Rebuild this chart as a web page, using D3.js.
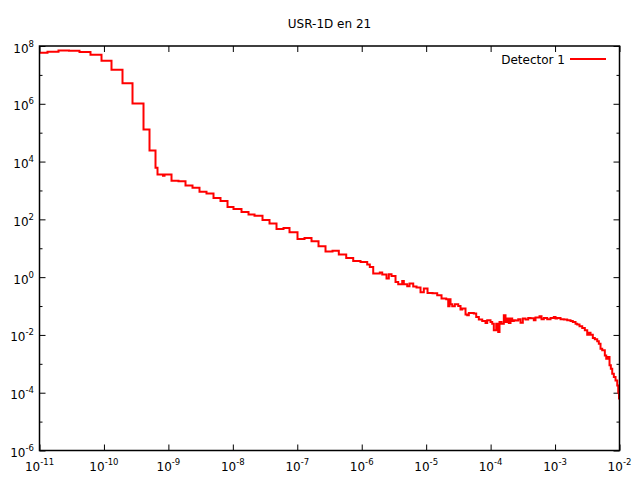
<!DOCTYPE html>
<html><head><meta charset="utf-8">
<script src="https://cdn.jsdelivr.net/npm/d3@7/dist/d3.min.js"></script>
<style>
body{margin:0;background:#fff}
svg{display:block}
text{font-family:"DejaVu Sans",sans-serif;fill:#000}
</style>
</head><body>
<svg id="chart" width="640" height="480"></svg>
<script>
// ---------- data ----------
const chartTitle = "USR-1D en 21";
const seriesName = "Detector 1";
const xTickExponents = [-11,-10,-9,-8,-7,-6,-5,-4,-3,-2];
const yMajorExponents = [-6,-4,-2,0,2,4,6,8];
const yMinorExponents = [-5,-3,-1,1,3,5,7];

// bin edges (GeV)
const binEdges = [
 1e-11,1.331e-11,1.971e-11,2.869e-11,4.175e-11,6.183e-11,9.165e-11,1.310e-10,1.941e-10,2.775e-10,
 4.111e-10,5.093e-10,6.311e-10,6.779e-10,8.25e-10,8.71e-10,1.118e-9,1.435e-9,1.843e-9,2.367e-9,
 3.040e-9,3.903e-9,5.013e-9,6.437e-9,8.27e-9,1.024e-8,1.363e-8,1.751e-8,2.170e-8,2.887e-8,
 3.708e-8,4.762e-8,6.115e-8,7.576e-8,1.008e-7,1.295e-7,1.663e-7,2.136e-7,2.742e-7,3.522e-7,
 4.410e-7,5.747e-7,7.379e-7,9.58e-7,1.217e-6,1.335e-6,1.508e-6,1.909e-6,2.080e-6,2.425e-6,
 2.633e-6,2.900e-6,3.345e-6,3.684e-6,4.251e-6,4.50e-6,5.082e-6,5.516e-6,6.297e-6,7.087e-6,
 8.175e-6,9.196e-6,1.050e-5,1.255e-5,1.484e-5,1.731e-5,2.048e-5,2.199e-5,2.304e-5,2.388e-5,
 2.537e-5,2.783e-5,3.144e-5,3.412e-5,3.626e-5,4.080e-5,4.336e-5,4.590e-5,5.488e-5,5.978e-5,
 6.563e-5,7.41e-5,8.337e-5,8.858e-5,9.968e-5,1.059e-4,1.121e-4,1.222e-4,1.312e-4,1.375e-4,
 1.477e-4,1.603e-4,1.703e-4,1.810e-4,1.917e-4,2.037e-4,2.164e-4,2.292e-4,2.435e-4,2.682e-4,
 2.912e-4,3.161e-4,3.480e-4,3.833e-4,4.161e-4,4.682e-4,4.974e-4,5.741e-4,6.166e-4,6.694e-4,
 7.557e-4,8.505e-4,9.57e-4,1.017e-3,1.080e-3,1.216e-3,1.368e-3,1.545e-3,1.738e-3,1.887e-3,
 2.078e-3,2.208e-3,2.397e-3,2.640e-3,2.897e-3,3.156e-3,3.342e-3,3.551e-3,3.855e-3,4.141e-3,
 4.512e-3,4.777e-3,5.076e-3,5.395e-3,5.920e-3,6.223e-3,6.589e-3,7.00e-3,7.337e-3,7.713e-3,
 8.166e-3,8.677e-3,9.222e-3,9.556e-3,9.83e-3,1e-2
];

// value in each bin
const binValues = [
 5.86e7,6.35e7,6.98e7,6.87e7,6.20e7,4.99e7,3.09e7,1.51e7,5.10e6,1.03e6,
 1.30e5,2.43e4,6.07e3,3.58e3,3.26e3,3.58e3,2.15e3,2.10e3,1.49e3,1.23e3,
 894,787,554,436,270,230,181,147,132,95.8,
 71.9,46.7,50.6,35.9,21.0,22.8,17.5,11.7,7.70,8.21,
 6.06,4.62,3.64,3.36,2.73,2.25,1.33,1.44,1.23,0.893,
 1.26,1.10,0.681,0.567,0.737,0.567,0.483,0.599,0.472,0.436,
 0.299,0.402,0.283,0.276,0.236,0.181,0.171,0.098,0.171,0.115,
 0.098,0.115,0.100,0.0753,0.0815,0.0505,0.0478,0.0574,0.0547,0.0417,
 0.0339,0.0303,0.0258,0.0321,0.0280,0.0246,0.01443,0.0246,0.0126,0.0280,
 0.0246,0.0478,0.0280,0.0367,0.0258,0.0367,0.0303,0.0321,0.0318,0.0347,
 0.0262,0.0367,0.0339,0.0385,0.0376,0.0321,0.0398,0.0441,0.0347,0.0385,
 0.0347,0.0385,0.0417,0.0367,0.0385,0.0347,0.0339,0.0321,0.0303,0.0280,
 0.0246,0.02275,0.01986,0.01734,0.01443,0.01024,0.0120,0.01024,0.00781,0.00704,
 0.0060,0.00500,0.00335,0.00293,0.00196,0.00151,0.00171,0.000884,0.000680,0.000456,
 0.000348,0.000267,0.000179,0.0001026,0.0000636
];

// ---------- layout ----------
const L = 39.5, R = 619.5, T = 46, B = 450.5;
const svg = d3.select("#chart");

const x = d3.scaleLog().domain([1e-11, 1e-2]).range([L, R]);
const y = d3.scaleLog().domain([1e-6, 1e8]).range([B, T]);

const xTicks = xTickExponents.map(e => Math.pow(10, e));
const yMajor = yMajorExponents.map(e => Math.pow(10, e));
const yMinor = yMinorExponents.map(e => Math.pow(10, e));

function styleAxis(g){
  g.select(".domain").remove();
  g.selectAll(".tick line").attr("stroke","#000").attr("stroke-width",1);
  g.selectAll(".tick text").remove();
}

// ticks (inward, mirrored)
svg.append("g").attr("transform",`translate(0,${B})`)
  .call(d3.axisBottom(x).tickValues(xTicks).tickSize(-6).tickFormat("")).call(styleAxis);
svg.append("g").attr("transform",`translate(0,${T})`)
  .call(d3.axisTop(x).tickValues(xTicks).tickSize(-6).tickFormat("")).call(styleAxis);
svg.append("g").attr("transform",`translate(${L},0)`)
  .call(d3.axisLeft(y).tickValues(yMajor).tickSize(-6).tickFormat("")).call(styleAxis);
svg.append("g").attr("transform",`translate(${L},0)`)
  .call(d3.axisLeft(y).tickValues(yMinor).tickSize(-3).tickFormat("")).call(styleAxis);
svg.append("g").attr("transform",`translate(${R},0)`)
  .call(d3.axisRight(y).tickValues(yMajor).tickSize(-6).tickFormat("")).call(styleAxis);
svg.append("g").attr("transform",`translate(${R},0)`)
  .call(d3.axisRight(y).tickValues(yMinor).tickSize(-3).tickFormat("")).call(styleAxis);

// tick labels with superscripts
xTickExponents.forEach(e => {
  const t = svg.append("text").attr("x", x(Math.pow(10,e))).attr("y", 471)
    .attr("text-anchor","middle").style("font-size","12px");
  t.append("tspan").text("10");
  t.append("tspan").attr("dy",-6).style("font-size","8.5px").text(String(e));
});
yMajorExponents.forEach(e => {
  const t = svg.append("text").attr("x", 34).attr("y", y(Math.pow(10,e)) + 6.5)
    .attr("text-anchor","end").style("font-size","12px");
  t.append("tspan").text("10");
  t.append("tspan").attr("dy",-6).style("font-size","8.5px").text(String(e));
});

// data line
svg.append("clipPath").attr("id","plotclip").append("rect")
  .attr("x",L).attr("y",T).attr("width",R-L).attr("height",B-T);

const n = Math.min(binValues.length, binEdges.length - 1);
const pts = [];
for (let i = 0; i < n; i++) pts.push([binEdges[i], binValues[i]]);
pts.push([binEdges[n], binValues[n-1]]);

const line = d3.line().x(d => x(d[0])).y(d => y(d[1])).curve(d3.curveStepAfter);
svg.append("path").attr("clip-path","url(#plotclip)")
  .attr("d", line(pts)).attr("fill","none").attr("stroke","#ff0000")
  .attr("stroke-width",2).attr("stroke-linejoin","miter");

// border
svg.append("rect").attr("x",L).attr("y",T).attr("width",R-L).attr("height",B-T)
  .attr("fill","none").attr("stroke","#000").attr("stroke-width",1.5);

// title
svg.append("text").attr("x",(L+R)/2).attr("y",28).attr("text-anchor","middle")
  .style("font-size","12px").text(chartTitle);

// legend
svg.append("text").attr("x",565).attr("y",64).attr("text-anchor","end")
  .style("font-size","12px").text(seriesName);
svg.append("line").attr("x1",570).attr("x2",606).attr("y1",59).attr("y2",59)
  .attr("stroke","#ff0000").attr("stroke-width",2);
</script>
</body></html>
